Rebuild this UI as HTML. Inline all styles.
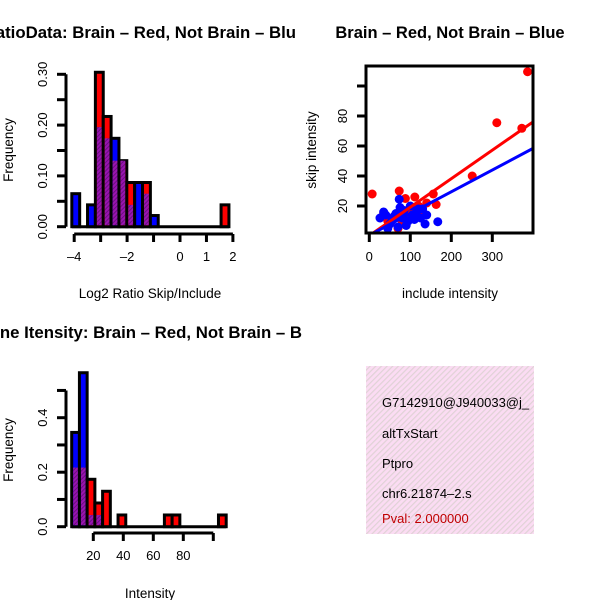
<!DOCTYPE html>
<html><head><meta charset="utf-8"><style>
html,body{margin:0;padding:0;background:#fff;}
svg{display:block;font-family:"Liberation Sans",sans-serif;}
</style></head><body>
<svg id="fig" width="600" height="600" viewBox="0 0 600 600">
<defs>
<pattern id="hatch" width="3" height="3" patternUnits="userSpaceOnUse" patternTransform="rotate(45)">
<rect width="3" height="3" fill="#9a14b0"/><rect width="1" height="3" fill="#6a1080"/></pattern>
<pattern id="pinkhatch" width="4" height="4" patternUnits="userSpaceOnUse" patternTransform="rotate(45)">
<rect width="4" height="4" fill="#fbdcf3"/><rect width="1.2" height="4" fill="#e0d2d6"/></pattern>
<clipPath id="txtclip"><rect x="366" y="366" width="168" height="168"/></clipPath>
</defs>
<text x="296" y="38" font-size="16.8" font-weight="bold" text-anchor="end">RatioData: Brain – Red, Not Brain – Blu</text>
<text x="450" y="38" font-size="16.5" font-weight="bold" text-anchor="middle">Brain – Red, Not Brain – Blue</text>
<text x="302" y="338" font-size="16.8" font-weight="bold" text-anchor="end">ne Itensity: Brain – Red, Not Brain – B</text>
<text transform="translate(13,150) rotate(-90)" font-size="13.5" text-anchor="middle">Frequency</text>
<text x="150" y="298" font-size="13.5" text-anchor="middle">Log2 Ratio Skip/Include</text>
<text transform="translate(316,150) rotate(-90)" font-size="13.5" text-anchor="middle">skip intensity</text>
<text x="450" y="298" font-size="13.5" text-anchor="middle">include intensity</text>
<text transform="translate(13,450) rotate(-90)" font-size="13.5" text-anchor="middle">Frequency</text>
<text x="150" y="598" font-size="13.5" text-anchor="middle">Intensity</text>
<g>
<rect x="366" y="366" width="168" height="168" fill="url(#pinkhatch)"/>
<g clip-path="url(#txtclip)" font-size="13">
<text x="382" y="407">G7142910@J940033@j_</text>
<text x="382" y="438">altTxStart</text>
<text x="382" y="468">Ptpro</text>
<text x="382" y="498">chr6.21874–2.s</text>
<text x="382" y="523" fill="#c00000">Pval: 2.000000</text>
</g></g>
</svg>
<script>
// Ratio histogram data
const ratioBinStart = -4.09, ratioBinWidth = 0.297;
const ratioRed  = [0,0,0,0.304,0.217,0.13,0.13,0.087,0,0.087,0,0,0,0,0,0,0,0,0,0.043];
const ratioBlue = [0.065,0,0.043,0.196,0.174,0.174,0.13,0.043,0.087,0.065,0.022,0,0,0,0,0,0,0,0,0];
const ratioXTicks = [-4,-3,-2,-1,0,1,2];
const ratioXLabels = ["-4","","-2","","0","1","2"];
const ratioYTicks = [0,0.05,0.10,0.15,0.20,0.25,0.30];
const ratioYLabels = ["0.00","","0.10","","0.20","","0.30"];
// Intensity histogram data
const intBinStart = 5.6, intBinWidth = 5.15;
const intRed  = [0.217,0.217,0.174,0.087,0.13,0,0.043,0,0,0,0,0,0.043,0.043,0,0,0,0,0,0.043];
const intBlue = [0.346,0.565,0.043,0.043,0,0,0,0,0,0,0,0,0,0,0,0,0,0,0,0];
const intXTicks = [20,40,60,80,100];
const intXLabels = ["20","40","60","80",""];
const intYTicks = [0,0.1,0.2,0.3,0.4,0.5];
const intYLabels = ["0.0","","0.2","","0.4",""];
// Scatter data
const redX  = [386,311,372,251,7,73,111,156,163,140,88,35,100,60,120,80,45,95,130,70,110,50];
const redY  = [109.5,75.5,71.8,40,28,30,26,28,21,22,25,15,18,12,20,10,10,14,16,5,15,8];
const blueX = [73,167,136,26,40,55,65,80,95,105,115,125,35,50,85,100,120,70,90,110,60,45,130,75,140];
const blueY = [24.5,9.5,8,12,14,10,15,12,10,14,16,12,16,8,17,20,18,6,7,11,13,5,18,19,14];
const scXTicks = [0,100,200,300];
const scYTicks = [20,40,60,80,100];
const scYLabels = ["20","40","60","80",""];
const redFit = [0.2, 0.19];
const blueFit = [0.5, 0.145];

const NS = "http://www.w3.org/2000/svg";
const svg = document.getElementById('fig');
function mk(tag, attrs, parent){
  const e = document.createElementNS(NS, tag);
  for (const k in attrs) e.setAttribute(k, attrs[k]);
  (parent||svg).appendChild(e); return e;
}

function histogram(o){
  const g = mk('g', {});
  
  
  const n = o.red.length;
  const bx0 = o.xs(o.start), bx1 = o.xs(o.start + n*o.width);
  const base = mk('line', {x1:bx0, x2:bx1, y1:o.ys(0), y2:o.ys(0), stroke:'#000', 'stroke-width':3}, g);
  
  
  for (let i=0;i<n;i++){
    const a = o.xs(o.start+i*o.width), b = o.xs(o.start+(i+1)*o.width);
    const r = o.red[i], bl = o.blue[i];
    const hi = Math.max(r,bl), lo = Math.min(r,bl);
    if (hi<=0) continue;
    const col = r>=bl ? '#ff0000' : '#0000ff';
    const bar = mk('rect', {x:a, y:o.ys(hi), width:b-a, height:o.ys(0)-o.ys(hi), fill:col, stroke:'#000', 'stroke-width':3}, g);
    
    
    if (lo>0){
      const ov = mk('rect', {x:a+1.5, y:o.ys(lo), width:b-a-3, height:o.ys(0)-o.ys(lo)-1.5, fill:'url(#hatch)'}, g);
      
      
    }
  }
  const xa = mk('g', {}, g);
  
  
  const ay = o.axisY;
  mk('line', {x1:o.xs(o.xt[0]), x2:o.xs(o.xt[o.xt.length-1]), y1:ay, y2:ay, stroke:'#000','stroke-width':3}, xa);
  o.xt.forEach((t,i)=>{
    const x = o.xs(t);
    mk('line', {x1:x,x2:x,y1:ay,y2:ay+8,stroke:'#000','stroke-width':3}, xa);
    if (o.xl[i]){ const tx = mk('text', {x:x, y:ay+27, 'font-size':13, 'text-anchor':'middle'}, xa); tx.textContent = o.xl[i].replace('-','–');
      
       }
  });
  const ya = mk('g', {}, g);
  
  
  const ax = o.axisX;
  mk('line', {x1:ax, x2:ax, y1:o.ys(o.yt[0]), y2:o.ys(o.yt[o.yt.length-1]), stroke:'#000','stroke-width':3}, ya);
  o.yt.forEach((t,i)=>{
    const y = o.ys(t);
    mk('line', {x1:ax-9,x2:ax,y1:y,y2:y,stroke:'#000','stroke-width':3}, ya);
    if (o.yl[i]){ const tx = mk('text', {transform:`translate(${ax-19},${y}) rotate(-90)`, 'font-size':13, 'text-anchor':'middle'}, ya); tx.textContent = o.yl[i];
      
       }
  });
}

histogram({name:'ratio-histogram', red:ratioRed, blue:ratioBlue, start:ratioBinStart, width:ratioBinWidth,
  xs:v=>180+26.45*v, ys:v=>226.7-v*508, axisY:234, axisX:66,
  xt:ratioXTicks, xl:ratioXLabels, yt:ratioYTicks, yl:ratioYLabels});
histogram({name:'intensity-histogram', red:intRed, blue:intBlue, start:intBinStart, width:intBinWidth,
  xs:v=>63.3+1.5*v, ys:v=>526.7-v*272.5, axisY:533, axisX:66,
  xt:intXTicks, xl:intXLabels, yt:intYTicks, yl:intYLabels});

// Scatter
const sx = v=>369.3+0.41*v, sy = v=>236-1.5*v;
const sg = mk('g', {});


const clipId='scclip';
const cp = mk('clipPath', {id:clipId}, sg); mk('rect', {x:366,y:66,width:167,height:167}, cp);
const pts = mk('g', {'clip-path':`url(#${clipId})`}, sg);
redX.forEach((x,i)=>{ const c = mk('circle', {cx:sx(x), cy:sy(redY[i]), r:4.5, fill:'#ff0000'}, pts);
  
   });
blueX.forEach((x,i)=>{ const c = mk('circle', {cx:sx(x), cy:sy(blueY[i]), r:4.5, fill:'#0000ff'}, pts);
  
   });
const rl = mk('line', {x1:sx(0), y1:sy(redFit[0]), x2:sx(400), y2:sy(redFit[0]+redFit[1]*400), stroke:'#ff0000','stroke-width':3}, pts);


const bln = mk('line', {x1:sx(0), y1:sy(blueFit[0]), x2:sx(400), y2:sy(blueFit[0]+blueFit[1]*400), stroke:'#0000ff','stroke-width':3}, pts);


const box = mk('rect', {x:366,y:66,width:167,height:167,fill:'none',stroke:'#000','stroke-width':3}, sg);


scXTicks.forEach(t=>{ const x=sx(t);
  mk('line',{x1:x,x2:x,y1:233,y2:242,stroke:'#000','stroke-width':3},sg);
  const tx = mk('text',{x:x,y:261,'font-size':13,'text-anchor':'middle'},sg); tx.textContent=String(t);
  
   });
scYTicks.forEach((t,i)=>{ const y=sy(t);
  mk('line',{x1:357,x2:366,y1:y,y2:y,stroke:'#000','stroke-width':3},sg);
  if(scYLabels[i]){ const tx = mk('text',{transform:`translate(347,${y}) rotate(-90)`,'font-size':13,'text-anchor':'middle'},sg); tx.textContent=scYLabels[i];
  
   } });
</script>
</body></html>
